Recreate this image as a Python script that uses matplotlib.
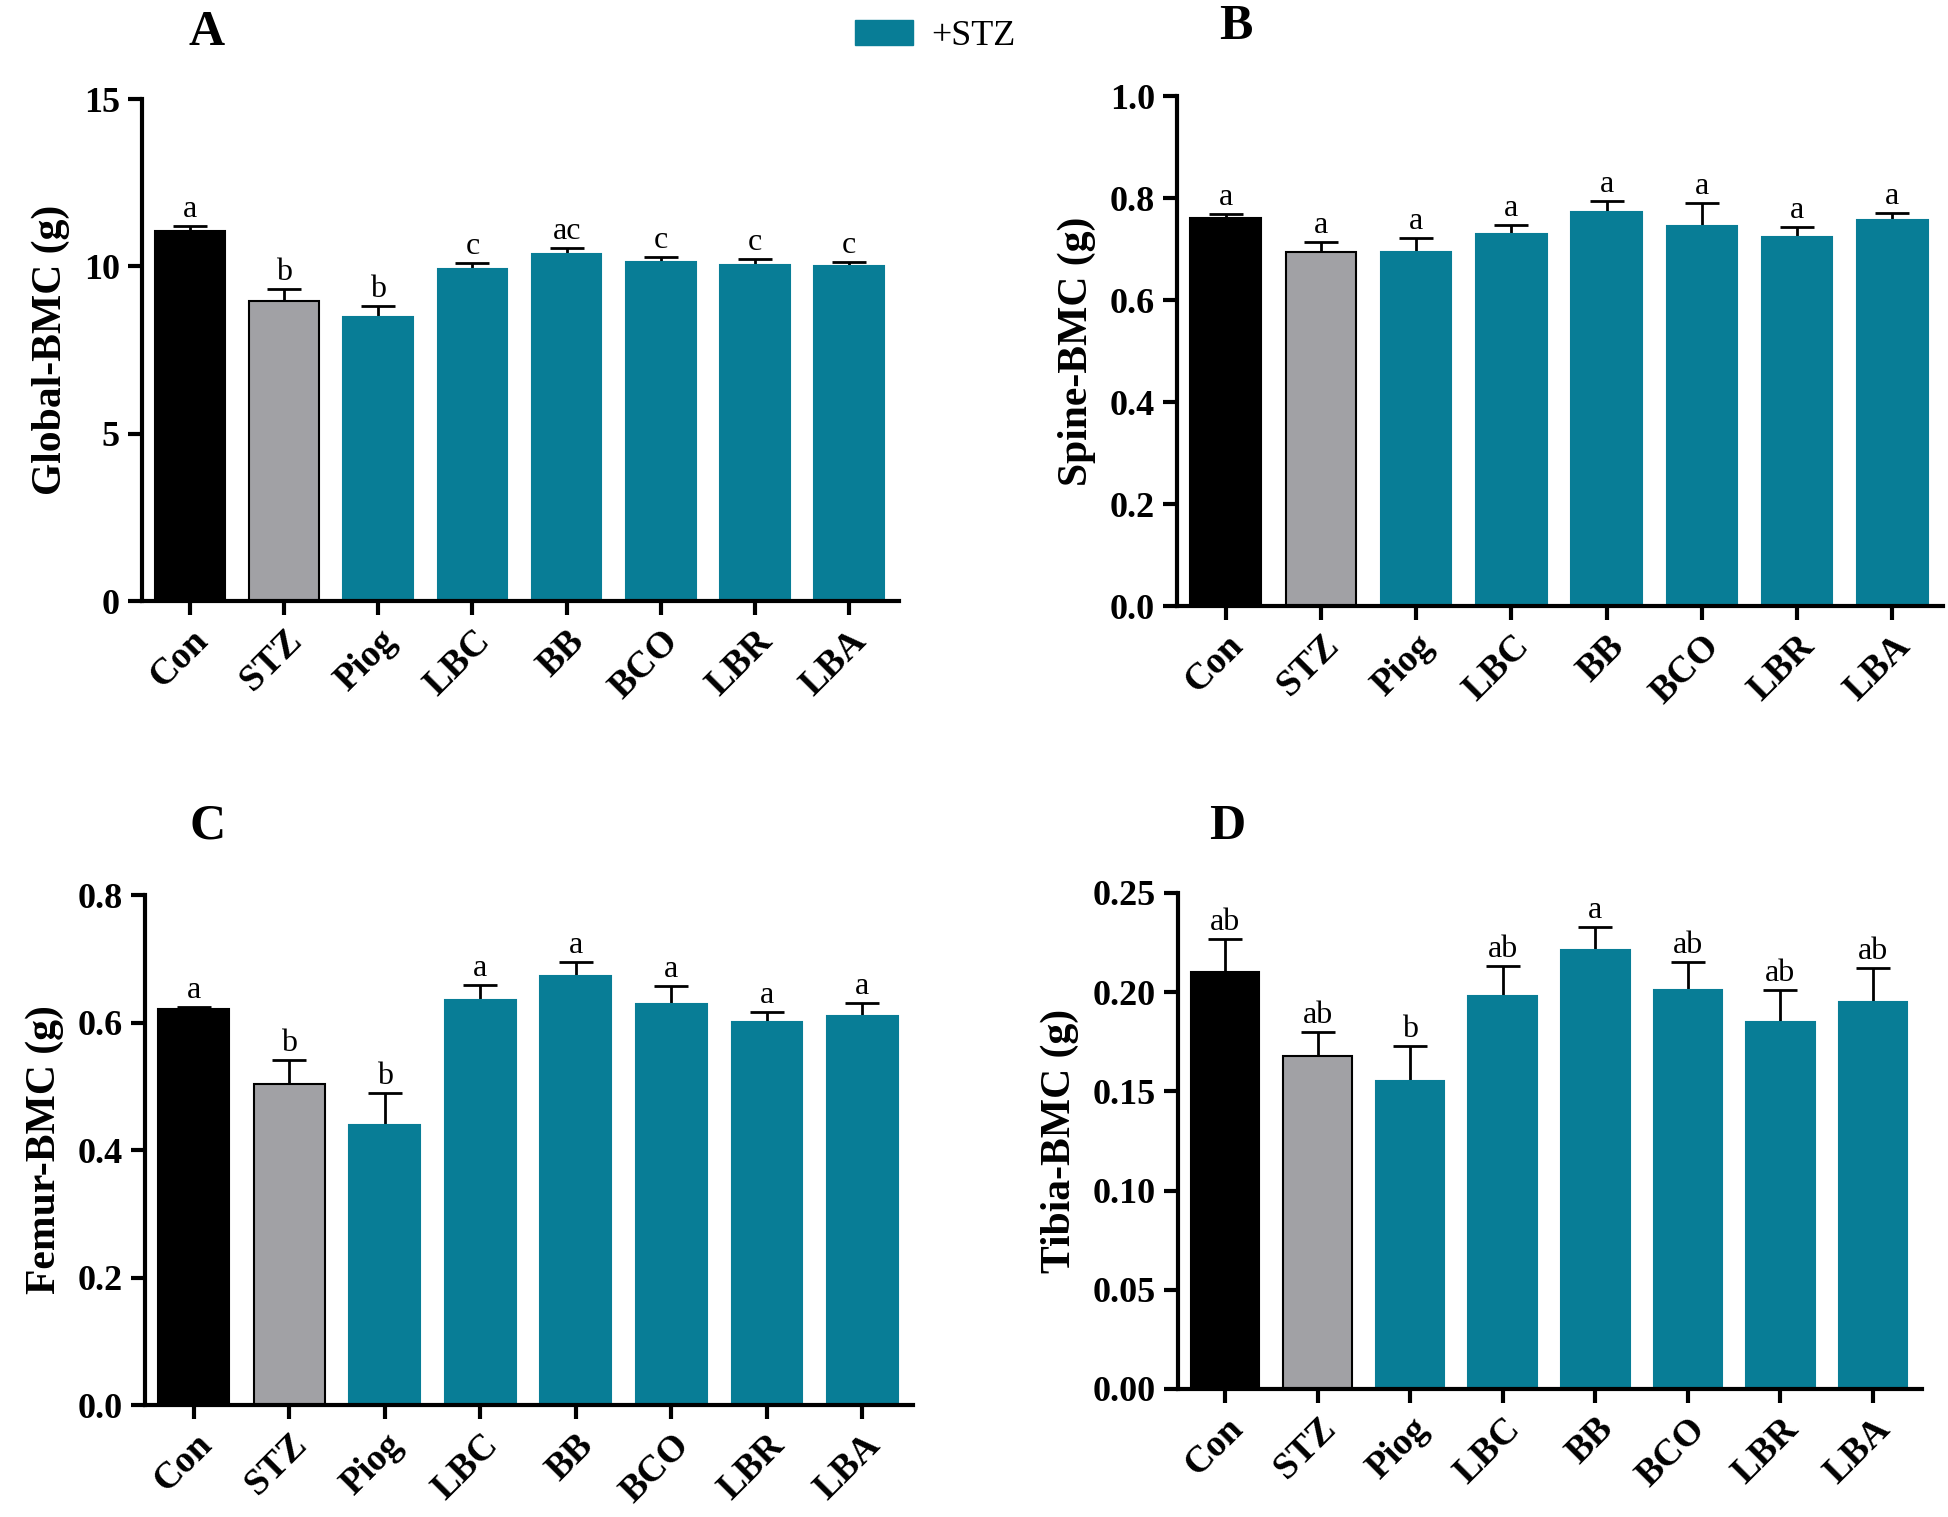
import numpy as np
import matplotlib
matplotlib.use("Agg")
from matplotlib import pyplot as plt
from matplotlib.patches import Patch

plt.rcParams['font.family'] = ['Liberation Serif', 'DejaVu Serif']

groups = ['Con', 'STZ', 'Piog', 'LBC', 'BB', 'BCO', 'LBR', 'LBA']

# panel A - Global BMC (g)
global_mean = [11.05, 8.96, 8.50, 9.93, 10.37, 10.12, 10.03, 10.01]
global_err = [0.15, 0.35, 0.32, 0.18, 0.18, 0.16, 0.18, 0.13]
global_sig = ['a', 'b', 'b', 'c', 'ac', 'c', 'c', 'c']

# panel B - Spine BMC (g)
spine_mean = [0.760, 0.695, 0.695, 0.730, 0.773, 0.746, 0.724, 0.756]
spine_err = [0.008, 0.018, 0.027, 0.018, 0.022, 0.045, 0.019, 0.014]
spine_sig = ['a'] * 8

# panel C - Femur BMC (g)
femur_mean = [0.621, 0.503, 0.440, 0.636, 0.673, 0.629, 0.601, 0.611]
femur_err = [0.004, 0.038, 0.050, 0.023, 0.022, 0.029, 0.016, 0.020]
femur_sig = ['a', 'b', 'b', 'a', 'a', 'a', 'a', 'a']

# panel D - Tibia BMC (g)
tibia_mean = [0.210, 0.168, 0.155, 0.198, 0.221, 0.201, 0.185, 0.195]
tibia_err = [0.017, 0.012, 0.018, 0.015, 0.012, 0.014, 0.016, 0.017]
tibia_sig = ['ab', 'ab', 'b', 'ab', 'a', 'ab', 'ab', 'ab']

teal = '#087d96'
colors = ['black', '#a1a1a5'] + [teal] * 6
edges = ['black', 'black'] + [teal] * 6

fig = plt.figure(figsize=(19.48, 15.17), dpi=100)

# [left, bottom, width, height], ylabel, ylim, ticks, format, letter
panels = [
    ([0.0729, 0.6038, 0.3886, 0.3309], 'Global-BMC (g)', 15, np.arange(0, 16, 5), '%d',
     global_mean, global_err, global_sig, 'A', (207, 33)),
    ([0.6042, 0.6005, 0.3932, 0.3362], 'Spine-BMC (g)', 1.0, np.arange(0, 1.01, 0.2), '%.1f',
     spine_mean, spine_err, spine_sig, 'B', (1236, 27)),
    ([0.0744, 0.0738, 0.3943, 0.3362], 'Femur-BMC (g)', 0.8, np.arange(0, 0.81, 0.2), '%.1f',
     femur_mean, femur_err, femur_sig, 'C', (208, 827)),
    ([0.6047, 0.0844, 0.3819, 0.3270], 'Tibia-BMC (g)', 0.25, np.arange(0, 0.251, 0.05), '%.2f',
     tibia_mean, tibia_err, tibia_sig, 'D', (1227, 827)),
]

x = np.arange(len(groups))
for rect, ylab, ymax, ticks, fmt, mean, err, sig, letter, lpos in panels:
    ax = fig.add_axes(rect)
    # symmetric error bars drawn under the bars, so only the upper half shows
    ax.errorbar(x, mean, yerr=err, fmt='none', ecolor='black',
                elinewidth=2, capsize=12, capthick=2, zorder=1)
    ax.bar(x, mean, width=0.74, color=colors, edgecolor=edges, linewidth=1.5, zorder=2)
    for xi, m, e, s in zip(x, mean, err, sig):
        ax.text(xi, m + e + ymax * 0.004, s, ha='center', va='bottom', fontsize=23)
    ax.set_xlim(-0.51, 7.53)
    ax.set_ylim(0, ymax)
    ax.set_yticks(ticks)
    ax.set_yticklabels([fmt % t for t in ticks], fontsize=26, fontweight='bold')
    ax.set_xticks(x)
    ax.set_xticklabels(groups, rotation=45, ha='right', rotation_mode='anchor',
                       fontsize=27, fontweight='bold')
    ax.set_ylabel(ylab, fontsize=30, fontweight='bold', labelpad=10)
    for side in ['top', 'right']:
        ax.spines[side].set_visible(False)
    for side in ['left', 'bottom']:
        ax.spines[side].set_linewidth(3)
    ax.tick_params(width=3, length=10, pad=6)
    fig.text(lpos[0] / 1948, 1 - lpos[1] / 1517, letter, ha='center', va='center',
             fontsize=36, fontweight='bold')

fig.legend(handles=[Patch(facecolor=teal, edgecolor=teal)], labels=['+STZ'],
           loc='upper left', bbox_to_anchor=(855 / 1948, 1 - 20 / 1517), frameon=False,
           fontsize=26, handlelength=1.6, handleheight=0.7, handletextpad=0.5,
           borderpad=0, borderaxespad=0)

fig.savefig('out.png', dpi=100)
